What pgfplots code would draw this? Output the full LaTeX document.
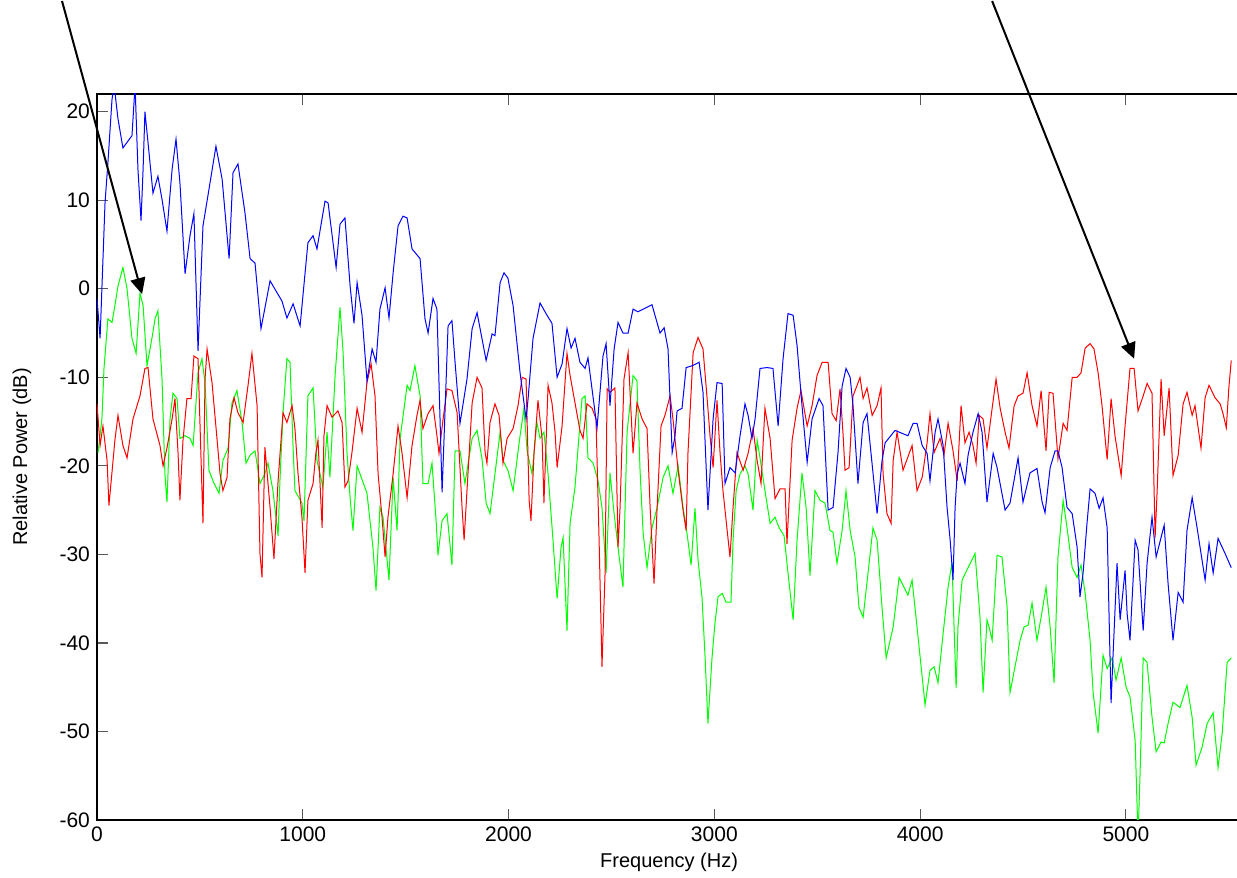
\documentclass[border=0pt]{standalone}
\usepackage{pgfplots}
\pgfplotsset{compat=1.18}
\usepackage{fontspec}
\setmainfont{Liberation Sans}
\usetikzlibrary{arrows.meta}
\begin{document}
\begin{tikzpicture}
\begin{axis}[
  scale only axis, width=572.06pt, height=363pt,
  xmin=0, xmax=5560, ymin=-60, ymax=22,
  xtick pos=both, ytick pos=left,
  xtick={0,1000,...,5000}, ytick={-60,-50,...,20},
  scaled x ticks=false,
  tick align=inside, major tick length=5.5pt,
  /pgf/number format/assume math mode=true,
  x tick label style={/pgf/number format/1000 sep={}},
  tick label style={font=\fontsize{10.5}{12}\selectfont, black},
  label style={font=\fontsize{10.5}{12}\selectfont},
  axis line style={black, line width=0.6pt},
  tick style={black!65, line width=0.6pt},
  xlabel={Frequency (Hz)}, ylabel={Relative Power (dB)},
  every axis x label/.style={at={([yshift=-21pt]rel axis cs:0.5,0)}, anchor=center},
  every axis y label/.style={at={([xshift=-37.5pt]rel axis cs:0,0.5)}, rotate=90, anchor=center},
]
\coordinate (SW) at (axis cs:0,-60);
\coordinate (NE) at (axis cs:5540,22);
\coordinate (XL) at (axis cs:2770,-60);
\coordinate (A1) at (axis cs:-170,32.5);
\coordinate (A2) at (axis cs:219,-0.6);
\coordinate (B1) at (axis cs:4350,32.5);
\coordinate (B2) at (axis cs:5040,-7.9);
% green
\addplot[green, line width=0.5pt] coordinates {
(5,-18.5)(24,-14.7)(34,-9)(53,-3.4)(73,-3.8)(87,-1.9)(102,0.3)(126,2.4)(146,0)(170,-5.6)(190,-7.3)(209,-0.5)(224,-1.9)(243,-8.7)(267,-5.6)(282,-3.4)(296,-2.5)(316,-10.2)(330,-20.9)(340,-24.1)(355,-14.7)(369,-11.8)(389,-12.4)(403,-16.9)(428,-16.6)(452,-16.9)(467,-17.7)(491,-9.5)(510,-7.9)(525,-10.6)(544,-20.5)(569,-22)(593,-23.1)(612,-19.4)(637,-18)(656,-12.9)(680,-11.5)(705,-15.1)(724,-19.7)(744,-18.8)(768,-18.3)(792,-22)(816,-20.9)(831,-19.7)(855,-22.8)(880,-27.9)(889,-21.7)(904,-14)(923,-7.9)(938,-8.3)(953,-18)(962,-22.8)(996,-24.2)(1006,-26.2)(1025,-12.1)(1050,-11.2)(1069,-19.4)(1098,-22.4)(1118,-16.2)(1132,-21.3)(1157,-9.8)(1181,-2.1)(1196,-7.2)(1215,-18.5)(1230,-23.6)(1244,-27.3)(1264,-20)(1312,-23.1)(1341,-29.2)(1356,-34.1)(1375,-24.7)(1390,-25.8)(1419,-32.9)(1439,-21.3)(1458,-27.3)(1473,-16.9)(1507,-10.9)(1521,-11.5)(1545,-8.7)(1570,-12.1)(1584,-22)(1609,-22)(1628,-19.7)(1648,-26.2)(1657,-30.1)(1677,-26.2)(1701,-25.4)(1725,-31.2)(1740,-18.3)(1764,-18.3)(1788,-22)(1823,-16.9)(1847,-16)(1871,-19.2)(1891,-24.2)(1910,-25.4)(1934,-20.9)(1959,-16.2)(1973,-19.4)(1997,-20.5)(2022,-22.8)(2056,-16.6)(2075,-13.5)(2090,-18.3)(2114,-20.9)(2138,-15.1)(2153,-16.9)(2172,-16.2)(2192,-20.9)(2216,-28.4)(2236,-35)(2255,-29.2)(2265,-28.1)(2284,-38.6)(2299,-26.5)(2323,-22.4)(2338,-17.9)(2357,-12.4)(2372,-12.1)(2386,-19.1)(2411,-19.7)(2435,-21.7)(2454,-24.7)(2474,-32.1)(2493,-20.8)(2513,-25.4)(2532,-29.2)(2556,-33.7)(2576,-16.2)(2605,-9.8)(2624,-10.4)(2639,-20.5)(2654,-27.6)(2673,-31.5)(2697,-27)(2722,-24.7)(2751,-21.3)(2775,-20)(2799,-23.1)(2824,-20)(2848,-24.7)(2867,-27.6)(2887,-31.2)(2906,-24.8)(2921,-30.7)(2940,-34.8)(2955,-41.6)(2969,-49.1)(2989,-41.6)(3003,-37.8)(3018,-34.8)(3038,-34.4)(3057,-35.4)(3081,-35.4)(3091,-28.4)(3106,-22.8)(3125,-20.9)(3149,-20)(3164,-20.9)(3188,-25)(3208,-17.1)(3222,-19.1)(3246,-22.8)(3271,-26.5)(3295,-25.8)(3315,-27)(3339,-27.9)(3358,-32.1)(3383,-37.4)(3402,-28.4)(3426,-20.8)(3446,-24.7)(3465,-32.4)(3489,-22.8)(3514,-23.9)(3538,-24.2)(3562,-27.3)(3577,-27.5)(3596,-31)(3621,-27.3)(3640,-22.8)(3660,-27.3)(3684,-30.3)(3703,-36)(3723,-37.1)(3747,-32.1)(3771,-27)(3791,-28.4)(3815,-36)(3835,-41.7)(3869,-38.2)(3898,-32.6)(3941,-34.6)(3961,-32.9)(3985,-38.2)(4005,-42.7)(4024,-47)(4048,-43.1)(4068,-42.7)(4087,-44.5)(4112,-38.9)(4136,-33.7)(4155,-30.9)(4165,-38.2)(4175,-45.1)(4184,-38.2)(4204,-32.9)(4233,-31.5)(4267,-29.9)(4291,-37.1)(4306,-45.6)(4325,-37.4)(4335,-38.2)(4350,-39.7)(4374,-30.1)(4398,-30.3)(4423,-36)(4437,-45.6)(4461,-42.7)(4486,-39.7)(4505,-38.2)(4525,-38)(4544,-35.5)(4568,-39.7)(4588,-37.1)(4612,-33.7)(4632,-38.2)(4651,-44.5)(4670,-30.3)(4695,-23.9)(4714,-27)(4739,-31.5)(4763,-32.6)(4782,-31.2)(4802,-34.4)(4826,-39.7)(4841,-45.7)(4865,-50.2)(4889,-41.4)(4909,-42.9)(4933,-41.7)(4952,-44.2)(4977,-41.7)(5001,-45)(5020,-46.1)(5045,-51)(5059,-62)(5069,-54.7)(5084,-41.7)(5103,-42.2)(5127,-48.4)(5147,-52.3)(5171,-51.2)(5186,-51.3)(5205,-49.1)(5229,-46.7)(5263,-47.3)(5297,-44.8)(5322,-48.4)(5341,-53.8)(5370,-51.8)(5395,-49.1)(5424,-47.9)(5448,-54.1)(5468,-50.2)(5492,-42.2)(5512,-41.7)
};
% red
\addplot[red, line width=0.5pt] coordinates {
(0,-13)(15,-17.7)(29,-15.5)(49,-19.4)(58,-24.5)(78,-19.4)(87,-17.1)(102,-14.3)(126,-17.7)(146,-19.1)(175,-14.7)(209,-12.1)(233,-9)(248,-8.9)(272,-14.7)(306,-17.7)(321,-20)(340,-18)(365,-14.7)(379,-12.4)(394,-18.6)(403,-23.9)(418,-17.1)(437,-12.4)(457,-12.4)(471,-7.6)(491,-7.9)(515,-26.5)(525,-10.2)(535,-6.8)(559,-10.6)(583,-16.9)(598,-20.9)(612,-22.8)(632,-21.3)(646,-14.7)(666,-12.3)(685,-14)(710,-15.1)(734,-10.9)(753,-7.3)(778,-13.2)(792,-29.9)(802,-32.6)(816,-17.9)(841,-24.7)(860,-30.5)(880,-21.7)(904,-14)(923,-15.1)(948,-13.2)(962,-15.8)(977,-20.9)(996,-25.8)(1011,-32.1)(1025,-23.9)(1050,-22)(1064,-18.5)(1074,-17.1)(1094,-27)(1103,-16.6)(1118,-13.2)(1142,-14.5)(1171,-13.8)(1191,-15.1)(1205,-22.4)(1220,-21.7)(1239,-18.5)(1264,-13.5)(1288,-16.2)(1312,-10.6)(1332,-8.5)(1351,-12.1)(1366,-20.9)(1385,-25.8)(1400,-30.3)(1414,-25.8)(1439,-20.9)(1463,-15.5)(1482,-18.5)(1507,-23.6)(1531,-17.7)(1555,-14.3)(1570,-12.6)(1584,-15.8)(1609,-14.1)(1633,-13.2)(1652,-16.6)(1662,-18.6)(1682,-14.7)(1701,-11.3)(1725,-11.5)(1750,-14)(1774,-24.7)(1784,-28.4)(1798,-22.8)(1823,-12.9)(1847,-10)(1871,-11.2)(1886,-18.5)(1895,-19.7)(1910,-15.1)(1934,-13)(1954,-14.3)(1973,-19.7)(1993,-16.9)(2022,-15.8)(2046,-13.2)(2066,-10)(2085,-10.2)(2100,-23.9)(2109,-26.2)(2124,-18.5)(2143,-12.6)(2163,-16.9)(2172,-24.2)(2192,-10.9)(2211,-12.9)(2226,-16.2)(2236,-20.2)(2260,-15.5)(2284,-7.3)(2299,-9.8)(2323,-12.9)(2347,-16)(2362,-16.9)(2381,-13)(2406,-13.5)(2425,-14.7)(2440,-28.4)(2454,-42.7)(2469,-32.1)(2479,-11.3)(2493,-11.7)(2517,-11.2)(2532,-29.2)(2542,-24.7)(2561,-10.2)(2581,-7.2)(2605,-18.6)(2624,-12.9)(2649,-14.7)(2673,-15.8)(2688,-24.7)(2707,-33.3)(2722,-24.7)(2741,-15.5)(2760,-14.3)(2785,-12.1)(2799,-14.7)(2824,-20.5)(2848,-25)(2863,-27.3)(2872,-18.5)(2897,-7.2)(2921,-5.5)(2945,-6.8)(2965,-12.4)(2979,-16.6)(2994,-20.2)(3013,-12.6)(3028,-18.6)(3042,-22.8)(3076,-30.3)(3091,-24.7)(3110,-18.5)(3140,-20.5)(3164,-18.6)(3188,-15.8)(3208,-19.4)(3227,-22)(3246,-13.5)(3271,-16.9)(3295,-23.7)(3319,-22.6)(3344,-22.6)(3353,-28.8)(3378,-17.1)(3402,-13.5)(3421,-11.5)(3451,-15.5)(3475,-13.2)(3499,-9.8)(3524,-8.3)(3553,-8.3)(3572,-14.1)(3592,-14.9)(3611,-11.3)(3626,-16.6)(3635,-20.5)(3655,-20.2)(3674,-12.1)(3694,-10.9)(3708,-10)(3723,-12.4)(3742,-11.2)(3767,-14.3)(3791,-13.2)(3810,-11.2)(3820,-20.9)(3839,-25.4)(3859,-26.5)(3869,-19.4)(3888,-16.2)(3917,-20.5)(3961,-17.7)(3985,-22.8)(4010,-21.3)(4034,-17.4)(4048,-14.1)(4068,-18.5)(4097,-16.9)(4116,-18.8)(4136,-15.2)(4160,-18.3)(4180,-21.7)(4199,-13.2)(4218,-17.4)(4238,-16.2)(4257,-17.7)(4272,-19.7)(4287,-14.3)(4306,-14.7)(4325,-18)(4350,-13.5)(4369,-10.2)(4389,-13.5)(4413,-16.2)(4432,-18)(4457,-13.2)(4476,-12.1)(4500,-11.8)(4520,-9.5)(4544,-13.2)(4568,-15.5)(4588,-11.5)(4612,-18.3)(4627,-11.7)(4646,-11.8)(4670,-19.2)(4695,-15.2)(4714,-16)(4739,-10)(4763,-10)(4782,-9.5)(4802,-6.7)(4826,-6.2)(4845,-6.8)(4865,-9.5)(4884,-13.2)(4909,-19.3)(4928,-12.4)(4947,-16.6)(4977,-21.1)(4996,-15.5)(5020,-9)(5040,-9)(5059,-13.8)(5084,-12.1)(5103,-10.7)(5127,-11.8)(5142,-28.1)(5152,-22.8)(5171,-10.2)(5186,-16.6)(5210,-11.2)(5229,-21.1)(5254,-18.8)(5278,-13)(5297,-11.7)(5322,-14.3)(5336,-13.2)(5365,-18)(5385,-12.3)(5404,-10.9)(5433,-12.3)(5458,-13)(5472,-14.1)(5488,-15.7)(5500,-11.3)(5512,-8.1)
};
% blue
\addplot[blue, line width=0.5pt] coordinates {
(0,-1.1)(15,-5.6)(39,9.7)(53,14.2)(73,21.4)(83,23)(102,19.2)(126,15.9)(170,17.3)(185,23)(199,13.5)(214,7.7)(224,13.5)(233,20)(248,16.5)(272,10.8)(296,12.7)(316,10.1)(340,6.5)(365,13.5)(384,16.9)(403,12)(428,1.7)(452,6)(471,8.5)(491,-7)(515,7.1)(539,10.5)(578,16.1)(608,12.4)(642,3.4)(661,13.1)(685,14.1)(719,8.6)(744,3.4)(768,2.9)(797,-4.5)(841,0.9)(899,-1.4)(923,-3.3)(953,-1.7)(987,-4.2)(1025,5.2)(1050,6)(1069,4.5)(1108,9.9)(1123,9.7)(1162,2.4)(1181,7.3)(1205,8)(1230,0.3)(1249,-3.9)(1264,0.7)(1288,-3)(1312,-10.4)(1337,-6.8)(1356,-8.3)(1375,-2.3)(1400,0.1)(1419,-3.3)(1439,1.8)(1463,7.1)(1487,8.2)(1507,8)(1531,4.5)(1570,3.4)(1594,-3.4)(1609,-5)(1633,-1.1)(1652,-2.3)(1677,-23)(1691,-14)(1706,-4.2)(1725,-3.6)(1740,-8.3)(1764,-15.2)(1798,-10.2)(1823,-4.5)(1847,-2.7)(1891,-8.1)(1920,-5.1)(1934,-5.3)(1959,0.7)(1978,1.8)(1997,1.2)(2022,-1.9)(2056,-9.5)(2085,-14.7)(2095,-12.4)(2119,-5.6)(2153,-1.6)(2187,-3)(2211,-3.9)(2236,-10)(2260,-8.5)(2284,-4.5)(2304,-6.7)(2323,-5.6)(2347,-8.3)(2372,-9)(2386,-7.8)(2430,-15.7)(2459,-7.6)(2474,-6.2)(2493,-13.2)(2513,-6.8)(2532,-3.8)(2556,-5)(2581,-5)(2605,-2.3)(2629,-2.6)(2697,-1.8)(2736,-5)(2756,-4.4)(2775,-6.8)(2795,-18.5)(2809,-16.6)(2819,-13.8)(2843,-13.5)(2863,-8.9)(2892,-8.7)(2926,-8.3)(2945,-11.7)(2969,-25)(2994,-14.7)(3013,-10.6)(3038,-10.7)(3052,-22)(3076,-20.2)(3101,-20.8)(3125,-16.6)(3149,-13)(3164,-14.3)(3183,-16.9)(3198,-14.7)(3222,-9)(3256,-8.9)(3285,-9)(3310,-15.5)(3334,-7.9)(3358,-2.8)(3383,-3)(3402,-6.4)(3426,-13.2)(3451,-19.6)(3475,-14.7)(3509,-12.4)(3528,-13.2)(3553,-25)(3577,-24.7)(3601,-18.5)(3621,-11)(3640,-9)(3660,-10)(3674,-13.2)(3698,-22)(3723,-15.1)(3742,-14.1)(3791,-25.4)(3815,-19.4)(3830,-17.4)(3878,-16)(3941,-16.6)(3966,-15.2)(3985,-15.2)(4010,-17.7)(4034,-18.6)(4048,-21.7)(4073,-16.2)(4087,-14.7)(4112,-17.7)(4131,-24.7)(4146,-28.4)(4160,-32.9)(4170,-24.7)(4180,-20.9)(4194,-19.7)(4218,-22)(4233,-18.8)(4257,-16.2)(4282,-14.1)(4301,-16.2)(4325,-24.1)(4355,-18.6)(4374,-20.2)(4413,-25)(4437,-24.2)(4476,-19.1)(4500,-24.1)(4534,-20.8)(4568,-20.3)(4593,-24.1)(4607,-25.3)(4632,-20.2)(4656,-18.3)(4670,-18.3)(4690,-20.2)(4714,-24.7)(4739,-25.4)(4763,-29.2)(4777,-34.8)(4792,-32.1)(4811,-26.5)(4826,-22.6)(4850,-23.1)(4870,-24.8)(4889,-23.6)(4909,-27)(4918,-36.7)(4928,-46.8)(4938,-41.2)(4957,-31)(4972,-37.4)(4996,-31.8)(5006,-36.7)(5020,-39.7)(5045,-28.4)(5059,-29.5)(5084,-38.6)(5103,-31)(5127,-25.8)(5147,-30.3)(5186,-26.7)(5205,-33.3)(5229,-39.7)(5254,-34.3)(5278,-35.4)(5297,-27.3)(5322,-23.6)(5346,-27)(5385,-32.9)(5404,-28.8)(5424,-32.1)(5448,-28.2)(5482,-29.9)(5512,-31.5)
};
\end{axis}
\draw[line width=1pt, -{Triangle[length=8pt,width=7.5pt]}] (A1) -- (A2);
\draw[line width=1pt, -{Triangle[length=8pt,width=7.5pt]}] (B1) -- (B2);
\pgfresetboundingbox
\path[use as bounding box] ([shift={(-48.5pt,-29pt)}]SW) rectangle ([shift={(0pt,47pt)}]NE);
\end{tikzpicture}
\end{document}
